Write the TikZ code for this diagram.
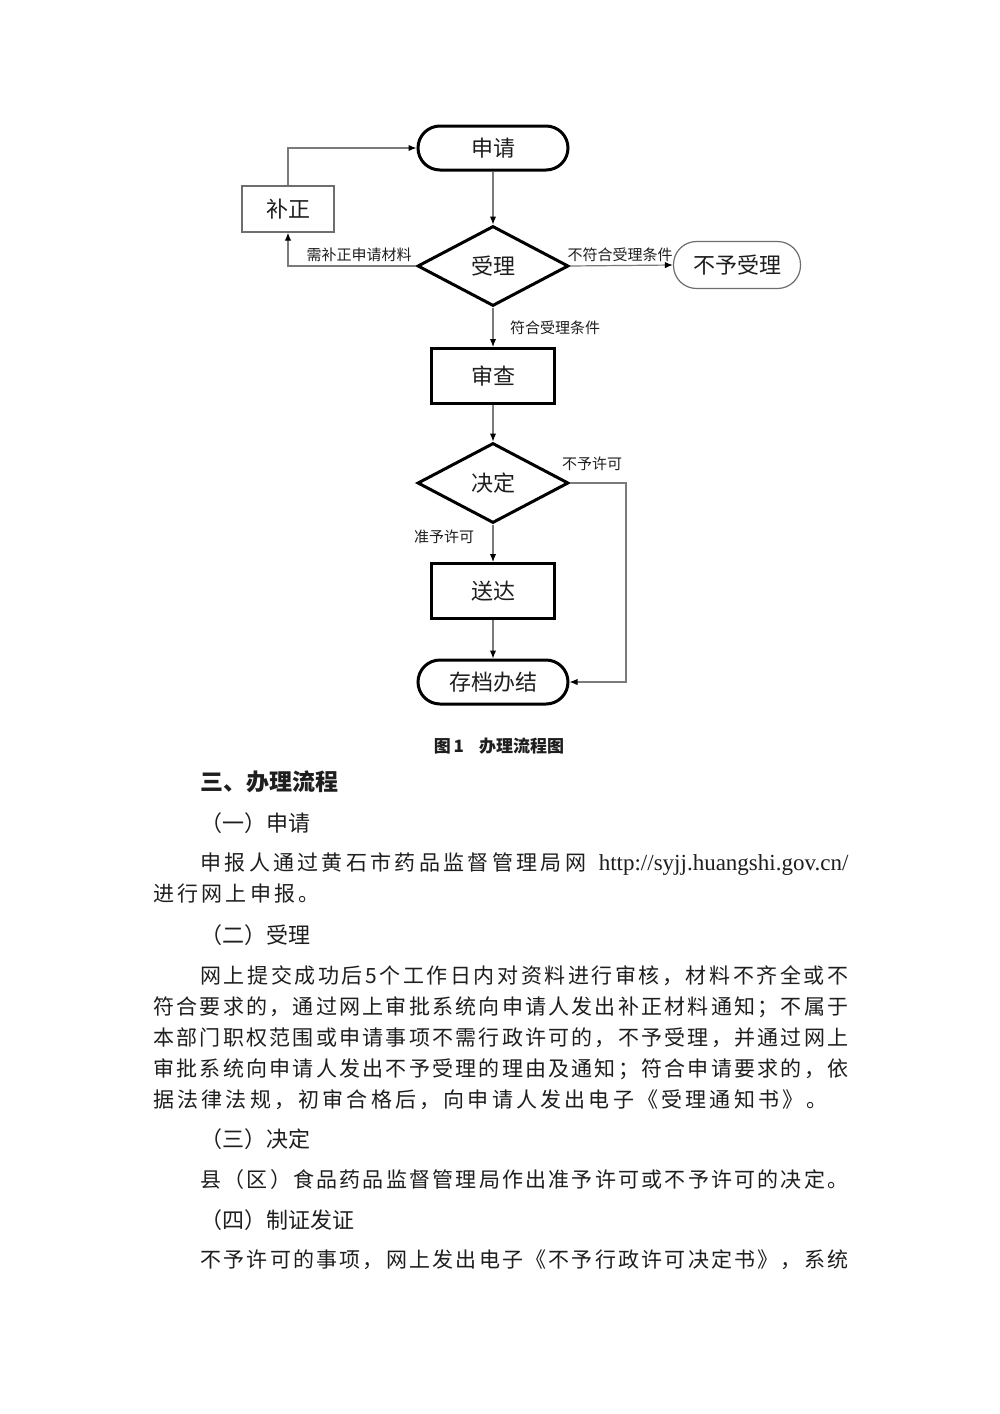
\documentclass[tikz,border=0pt]{standalone}
\usepackage{fontspec}
\setmainfont{Noto Sans CJK SC}
\newfontfamily\urlfont{Liberation Serif}
\usetikzlibrary{shapes.geometric,arrows.meta}
\definecolor{linegray}{HTML}{7A7A7A}
\definecolor{boxgray}{HTML}{6E6E6E}
\definecolor{ink}{HTML}{1E1E1E}
\makeatletter
\def\jl@end{jlend}
\newdimen\jlgap \jlgap=1.6pt
\def\jl#1{\jl@aux#1\jl@end}
\def\jl@aux#1{\ifx#1\jl@end\else#1\hskip\jlgap plus 1fil\relax\expandafter\jl@aux\fi}
\makeatother
\newcommand{\fullline}[2]{{\jlgap=0pt\makebox[#1][s]{\jl{#2}\unskip}}}
\tikzset{
  term/.style={draw=black, line width=1.5pt, rounded corners=11pt, minimum width=75pt, minimum height=22pt, inner sep=0pt, text=ink, font=\fontsize{11}{13}\selectfont},
  proc/.style={draw=black, line width=1.5pt, minimum width=61.5pt, minimum height=27.5pt, inner sep=0pt, text=ink, font=\fontsize{11}{13}\selectfont},
  dec/.style={draw=black, line width=1.5pt, diamond, minimum width=75.5pt, minimum height=40pt, inner sep=0pt, text=ink, font=\fontsize{11}{13}\selectfont},
  thinbox/.style={draw=boxgray, line width=0.6pt, minimum width=46pt, minimum height=23pt, inner sep=0pt, text=ink, font=\fontsize{11}{13}\selectfont},
  thinterm/.style={draw=boxgray, line width=0.6pt, rounded corners=11.5pt, minimum width=63.5pt, minimum height=23.5pt, inner sep=0pt, text=ink, font=\fontsize{11}{13}\selectfont},
  conn/.style={draw=linegray, line width=0.6pt, -{Latex[length=4pt,width=3.2pt,color=black]}},
  lbl/.style={inner sep=0pt, text=ink, font=\fontsize{7.5}{9}\selectfont},
  body/.style={anchor=west, inner sep=0pt, text=ink, font=\fontsize{10.5}{12}\selectfont},
  head/.style={anchor=west, inner sep=0pt, text=ink, font=\fontsize{11}{13}\selectfont},
}
\begin{document}
\begin{tikzpicture}[x=0.5pt,y=-0.5pt]
\useasboundingbox (0,0) rectangle (1000,1414);
\fill[white] (0,0) rectangle (1000,1414);
% flowchart nodes
\node[term] (apply) at (493,148) {申请};
\node[thinbox] (fix) at (288,209) {补正};
\node[dec] (accept) at (493,266) {受理};
\node[thinterm] (reject) at (737,265) {不予受理};
\node[proc] (review) at (493,376) {审查};
\node[dec] (decide) at (493,483) {决定};
\node[proc] (deliver) at (493,591) {送达};
\node[term] (archive) at (493,682) {存档办结};
\coordinate (rr) at (626,483);
% connectors
\draw[conn] (apply) -- (accept);
\draw[conn] (accept.west) -| (fix.south);
\draw[conn] (fix.north) |- (apply.west);
\draw[conn] (accept.east) -- (reject.west);
\draw[conn] (accept.south) -- (review.north);
\draw[conn] (review.south) -- (decide.north);
\draw[conn] (decide.south) -- (deliver.north);
\draw[conn] (decide.east) -- (rr) |- (archive.east);
\draw[conn] (deliver.south) -- (archive.north);
% labels
\node[lbl] (l1) at (359,255) {需补正申请材料};
\node[lbl] (l2) at (620,255) {不符合受理条件};
\node[lbl] (l3) at (555,328) {符合受理条件};
\node[lbl] (l4) at (592,464) {不予许可};
\node[lbl] (l5) at (444,537) {准予许可};
% caption
\node[inner sep=0pt, text=ink, font=\fontsize{8.5}{10}\selectfont\bfseries] (cap) at (499,746) {图\,1\hspace{0.9em}办理流程图};
% text
\node[anchor=west, inner sep=0pt, text=ink, font=\fontsize{11.5}{13}\selectfont\bfseries] (h0) at (200,782) {三、办理流程};
\node[head] (h1) at (200,823) {（一）申请};
\node[body] (t1) at (200,864) {{\jlgap=0pt\makebox[324pt][s]{\jl{申报人通过黄石市药品监督管理局网}\hskip 3pt plus 1fil{\urlfont\fontsize{11.5}{13}\selectfont http://syjj.huangshi.gov.cn/}}}};
\node[body] (t2) at (153,894) {\jl{进行网上申报。}\unskip};
\node[head] (h2) at (200,935) {（二）受理};
\node[body] (t3) at (200,976) {\fullline{324pt}{网上提交成功后5个工作日内对资料进行审核，材料不齐全或不}};
\node[body] (t4) at (153,1007) {\fullline{347.5pt}{符合要求的，通过网上审批系统向申请人发出补正材料通知；不属于}};
\node[body] (t5) at (153,1038) {\fullline{347.5pt}{本部门职权范围或申请事项不需行政许可的，不予受理，并通过网上}};
\node[body] (t6) at (153,1069) {\fullline{347.5pt}{审批系统向申请人发出不予受理的理由及通知；符合申请要求的，依}};
\node[body] (t7) at (153,1100) {\jl{据法律法规，初审合格后，向申请人发出电子《受理通知书》。}\unskip};
\node[head] (h3) at (200,1139) {（三）决定};
\node[body] (t8) at (200,1180) {\fullline{324pt}{县（区）食品药品监督管理局作出准予许可或不予许可的决定。}};
\node[head] (h4) at (200,1220) {（四）制证发证};
\node[body] (t9) at (200,1260) {\fullline{324pt}{不予许可的事项，网上发出电子《不予行政许可决定书》，系统}};
\end{tikzpicture}
\end{document}
